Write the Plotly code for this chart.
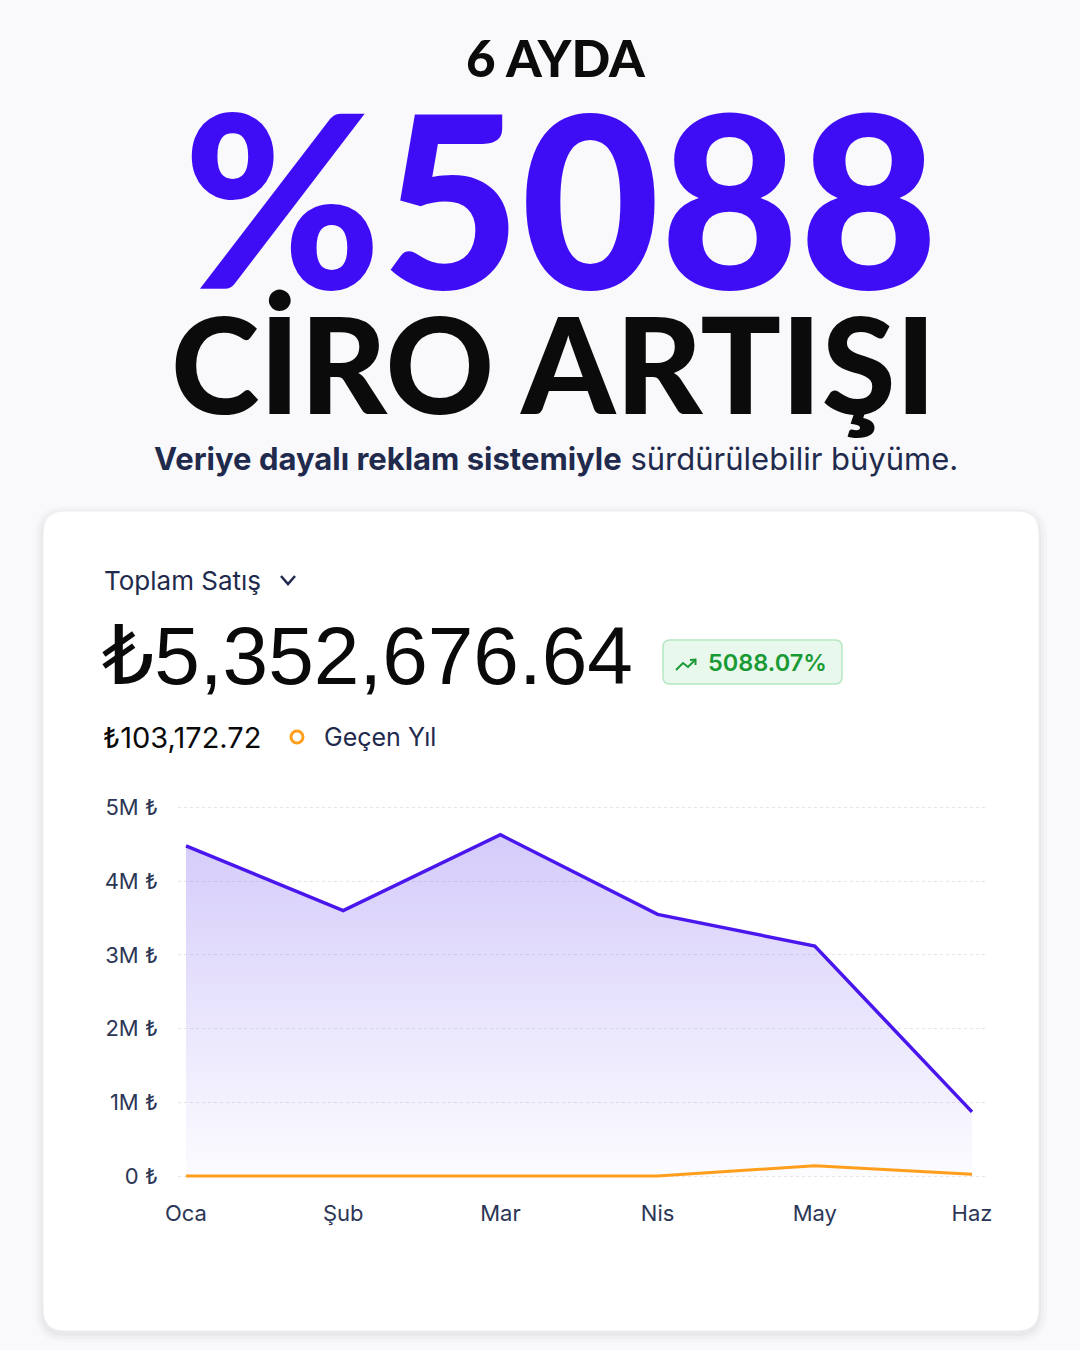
import plotly.graph_objects as go

W, H = 1080, 1350

months = ["Oca", "Şub", "Mar", "Nis", "May", "Haz"]
this_year = [4480000, 3600000, 4630000, 3550000, 3120000, 870000]
last_year = [0, 0, 0, 0, 140000, 25000]
y_ticks = [0, 1000000, 2000000, 3000000, 4000000, 5000000]
y_tick_labels = ["0 ₺", "1M ₺", "2M ₺", "3M ₺", "4M ₺", "5M ₺"]

headline_top = "6 AYDA"
headline_big = "%5088"
headline_mid = "CİRO ARTIŞI"
subtitle_bold = "Veriye dayalı reklam sistemiyle"
subtitle_rest = "sürdürülebilir büyüme."
metric_label = "Toplam Satış"
total_value = "₺5,352,676.64"
growth_badge = "5088.07%"
last_year_value = "₺103,172.72"
last_year_label = "Geçen Yıl"

PURPLE = "#3F0DF5"
LINE = "#4A16EE"
ORANGE = "#FF9E1B"
NAVY = "#1F2A4D"
NAVY2 = "#2C3656"
GREEN = "#1A9A35"


def px(x):
    return x / W


def py(y):
    return 1 - y / H


def rrect(x0, y0, x1, y1, r):
    rx, ry = r / W, r / H
    X0, X1 = px(x0), px(x1)
    Y0, Y1 = py(y0), py(y1)
    return (f"M {X0+rx},{Y0} L {X1-rx},{Y0} Q {X1},{Y0} {X1},{Y0-ry} "
            f"L {X1},{Y1+ry} Q {X1},{Y1} {X1-rx},{Y1} L {X0+rx},{Y1} "
            f"Q {X0},{Y1} {X0},{Y1+ry} L {X0},{Y0-ry} Q {X0},{Y0} {X0+rx},{Y0} Z")


def poly(points):
    return "M " + " L ".join(f"{px(a)},{py(b)}" for a, b in points)


fig = go.Figure()

fig.add_trace(go.Scatter(
    x=list(range(len(months))), y=this_year, mode="lines",
    line=dict(color=LINE, width=3.5),
    fill="tozeroy",
    fillgradient=dict(type="vertical",
                      colorscale=[[0, "rgba(120,90,240,0.02)"], [1, "rgba(120,90,240,0.32)"]],
                      start=0, stop=4700000),
    hoverinfo="skip", showlegend=False,
))
fig.add_trace(go.Scatter(
    x=list(range(len(months))), y=last_year, mode="lines",
    line=dict(color=ORANGE, width=3),
    hoverinfo="skip", showlegend=False,
))

ax_l, ax_r = 178, 988
ax_t, ax_b = 800, 1190
x_first, x_last = 186, 972
ux = (x_last - x_first) / (len(months) - 1)
x_range = [-(x_first - ax_l) / ux, (len(months) - 1) + (ax_r - x_last) / ux]
zero_px, five_px = 1176, 807.5
uy = (zero_px - five_px) / 5000000
y_range = [-(ax_b - zero_px) / uy, 5000000 + (five_px - ax_t) / uy]

fig.update_layout(
    width=W, height=H, autosize=False,
    margin=dict(l=0, r=0, t=0, b=0, pad=0, autoexpand=False),
    paper_bgcolor="#F9F9FB",
    plot_bgcolor="rgba(0,0,0,0)",
    xaxis=dict(domain=[px(ax_l), px(ax_r)], range=x_range, automargin=False,
               tickmode="array", tickvals=list(range(len(months))), ticktext=months,
               showgrid=False, zeroline=False, showline=False, ticks="",
               tickfont=dict(family="Inter", size=22, color=NAVY2),
               ticklabelstandoff=8, fixedrange=True),
    yaxis=dict(domain=[py(ax_b), py(ax_t)], range=y_range, automargin=False,
               tickmode="array", tickvals=y_ticks, ticktext=y_tick_labels,
               showgrid=True, gridcolor="#E4E4EA", griddash="dot", gridwidth=1,
               zeroline=False, showline=False, ticks="",
               tickfont=dict(family="Inter", size=22, color=NAVY2),
               ticklabelstandoff=19, fixedrange=True),
)

shapes = []
for i, a in enumerate([0.02, 0.025, 0.03]):
    g = 8 - i * 3
    shapes.append(dict(type="path", xref="paper", yref="paper", layer="below",
                       path=rrect(43 - g, 511 - g + 3, 1039 + g, 1331 + g + 3, 22 + g),
                       fillcolor=f"rgba(30,30,60,{a})", line=dict(width=0)))
shapes.append(dict(type="path", xref="paper", yref="paper", layer="below",
                   path=rrect(43, 511, 1039, 1331, 22),
                   fillcolor="#FFFFFF", line=dict(color="#EEEEF2", width=1)))
shapes.append(dict(type="path", xref="paper", yref="paper", layer="above",
                   path=rrect(663, 640, 842, 684, 7),
                   fillcolor="#E9F8ED", line=dict(color="#B5E8C2", width=1.5)))
# trending-up icon in badge
shapes.append(dict(type="path", xref="paper", yref="paper", layer="above",
                   path=poly([(676, 670), (683, 663), (688, 667), (695, 660)]),
                   line=dict(color=GREEN, width=2)))
shapes.append(dict(type="path", xref="paper", yref="paper", layer="above",
                   path=poly([(690, 660), (695.5, 659.5), (695.5, 665)]),
                   line=dict(color=GREEN, width=2)))
# chevron
shapes.append(dict(type="path", xref="paper", yref="paper", layer="above",
                   path=poly([(281, 576), (288, 584), (295, 576)]),
                   line=dict(color=NAVY, width=2.5)))
# orange legend ring
shapes.append(dict(type="circle", xref="paper", yref="paper", layer="above",
                   x0=px(291), x1=px(303), y0=py(743), y1=py(731),
                   line=dict(color=ORANGE, width=3), fillcolor="rgba(0,0,0,0)"))
fig.update_layout(shapes=shapes)

ann = []


def add_text(text, x, y, size, color, family="Inter", weight=None, xanchor="left"):
    f = dict(family=family, size=size, color=color)
    if weight is not None:
        f["weight"] = weight
    ann.append(dict(text=text, x=px(x), y=py(y), xref="paper", yref="paper",
                    xanchor=xanchor, yanchor="middle", showarrow=False, font=f))


add_text(headline_top, 556, 57, 51, "#0B0B0B", family="Lato", weight=900, xanchor="center")
add_text(headline_big, 560, 196, 240, PURPLE, family="Lato", weight=900, xanchor="center")
add_text(headline_mid, 553, 362, 134, "#0B0B0B", family="Lato", weight=900, xanchor="center")
add_text(f"<b>{subtitle_bold}</b> {subtitle_rest}", 556, 458, 31, NAVY, family="Inter", xanchor="center")
add_text(metric_label, 102, 581, 26, NAVY, family="Inter")
add_text(total_value, 100, 655, 82, "#0A0A0A", family="Liberation Sans, DejaVu Sans")
add_text(growth_badge, 706, 663, 23.5, GREEN, family="Inter", weight=600)
add_text(last_year_value, 101, 737, 29, "#0A0A0A", family="Inter")
add_text(last_year_label, 322, 737, 25, NAVY, family="Inter")

fig.update_layout(annotations=ann)

fig.write_html("out.html", config={"displayModeBar": False, "staticPlot": True},
               post_script="document.body.style.margin='0';document.body.style.overflow='hidden';")
